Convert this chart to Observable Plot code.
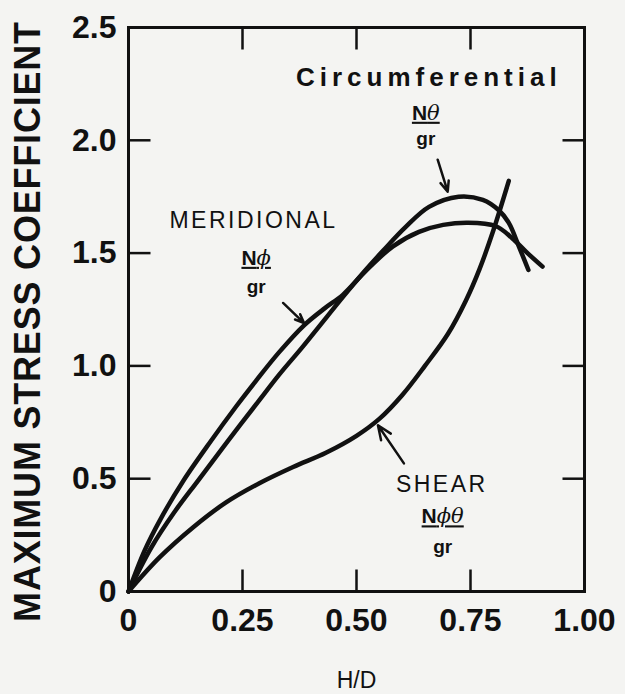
<!DOCTYPE html>
<html>
<head>
<meta charset="utf-8">
<script src="https://cdn.jsdelivr.net/npm/d3@7"></script>
<script src="https://cdn.jsdelivr.net/npm/@observablehq/plot@0.6"></script>
<style>
  html, body { margin: 0; padding: 0; background: #f4f4f2; }
</style>
</head>
<body>
<div id="chart"></div>
<script>
// ---- axis ticks and labels ----
const xTicks = [0, 0.25, 0.5, 0.75, 1];
const xTickLabels = ["0", "0.25", "0.50", "0.75", "1.00"];
const yTicks = [0, 0.5, 1, 1.5, 2, 2.5];
const yTickLabels = ["0", "0.5", "1.0", "1.5", "2.0", "2.5"];
const xInnerTicks = [0.25, 0.5, 0.75];
const yInnerTicks = [0.5, 1, 1.5, 2];
const xTitle = "H/D";
const yTitle = "MAXIMUM STRESS COEFFICIENT";

// ---- series ----
const circHD   = [0, 0.05, 0.1, 0.153, 0.214, 0.287, 0.33, 0.38, 0.42, 0.47, 0.52, 0.558, 0.608, 0.659, 0.724, 0.777, 0.812, 0.834, 0.856, 0.877];
const circCoef = [0, 0.195, 0.35, 0.493, 0.657, 0.848, 0.96, 1.08, 1.18, 1.305, 1.425, 1.51, 1.616, 1.705, 1.75, 1.736, 1.69, 1.634, 1.53, 1.425];

const meriHD   = [0, 0.035, 0.07, 0.12, 0.18, 0.236, 0.28, 0.33, 0.385, 0.43, 0.47, 0.52, 0.58, 0.637, 0.69, 0.745, 0.805, 0.842, 0.875, 0.908];
const meriCoef = [0, 0.18, 0.32, 0.49, 0.665, 0.82, 0.935, 1.06, 1.18, 1.255, 1.315, 1.42, 1.53, 1.594, 1.625, 1.635, 1.62, 1.565, 1.5, 1.44];

const shearHD   = [0, 0.068, 0.142, 0.214, 0.287, 0.361, 0.433, 0.5, 0.55, 0.6, 0.65, 0.7, 0.74, 0.77, 0.8, 0.834];
const shearCoef = [0, 0.151, 0.285, 0.395, 0.48, 0.552, 0.615, 0.69, 0.765, 0.87, 1.0, 1.14, 1.29, 1.43, 1.6, 1.82];

// ---- annotations ----
const headText = ["Circumferential"];
const headX = [0.652];
const headY = [2.242];

const nameText = ["MERIDIONAL", "SHEAR"];
const nameX = [0.274, 0.687];
const nameY = [1.612, 0.44];

const numerText = ["Nθ", "Nϕ", "Nϕθ"];
const numerX = [0.652, 0.28, 0.689];
const numerY = [2.091, 1.448, 0.302];

const denomText = ["gr", "gr", "gr"];
const denomX = [0.652, 0.28, 0.689];
const denomY = [1.98, 1.323, 0.169];

const arrowX1 = [0.678, 0.339, 0.604];
const arrowY1 = [1.914, 1.279, 0.568];
const arrowX2 = [0.700, 0.385, 0.547];
const arrowY2 = [1.772, 1.19, 0.737];

// ---- build tables ----
const zip = (xs, ys, name) => xs.map((x, i) => ({x, y: ys[i], series: name}));
const lines = [
  ...zip(circHD, circCoef, "circumferential"),
  ...zip(meriHD, meriCoef, "meridional"),
  ...zip(shearHD, shearCoef, "shear")
];
const tbl = (t, xs, ys) => t.map((s, i) => ({text: s, x: xs[i], y: ys[i]}));
const arrows = arrowX1.map((x1, i) => ({x1, y1: arrowY1[i], x2: arrowX2[i], y2: arrowY2[i]}));
const xLab = new Map(xTicks.map((t, i) => [t, xTickLabels[i]]));
const yLab = new Map(yTicks.map((t, i) => [t, yTickLabels[i]]));

const sans = "'Liberation Sans', Arial, Helvetica, sans-serif";
const tickShape = {draw(context, l) { context.moveTo(0, 0); context.lineTo(0, -l); }};
const innerTick = {shape: tickShape, length: 22, anchor: "start", strokeWidth: 2.5, stroke: "#111", strokeLinecap: "butt"};

const xMin = xTicks[0], xMax = xTicks[xTicks.length - 1];
const yMin = yTicks[0], yMax = yTicks[yTicks.length - 1];

const chart = Plot.plot({
  width: 625,
  height: 694,
  marginLeft: 128,
  marginRight: 41,
  marginTop: 27,
  marginBottom: 103,
  x: {domain: [xMin, xMax], label: null},
  y: {domain: [yMin, yMax], label: null},
  style: {background: "#f4f4f2", fontFamily: sans, color: "#111"},
  marks: [
    Plot.frame({strokeWidth: 3}),
    // tick labels
    Plot.axisX(xTicks, {tickSize: 0, tickPadding: 17, tickFormat: d => xLab.get(d), fontSize: 32, fontWeight: "bold", label: null}),
    Plot.axisY(yTicks, {tickSize: 0, tickPadding: 12, tickFormat: d => yLab.get(d), fontSize: 32, fontWeight: "bold", label: null}),
    // inward ticks on all four sides
    Plot.vector(xInnerTicks, {...innerTick, x: d => d, y: () => yMin, rotate: 0}),
    Plot.vector(xInnerTicks, {...innerTick, x: d => d, y: () => yMax, rotate: 180}),
    Plot.vector(yInnerTicks, {...innerTick, x: () => xMin, y: d => d, rotate: 90}),
    Plot.vector(yInnerTicks, {...innerTick, x: () => xMax, y: d => d, rotate: -90}),
    // axis titles
    Plot.text([xTitle], {text: d => d, frameAnchor: "bottom", dy: 96, lineAnchor: "bottom", fontSize: 23}),
    Plot.text([yTitle], {text: d => d, frameAnchor: "left", textAnchor: "middle", dx: -100, dy: 12, rotate: -90, lineAnchor: "middle", fontSize: 36, fontWeight: "bold"}),
    // curves
    Plot.line(lines, {x: "x", y: "y", z: "series", curve: "catmull-rom", stroke: "#111", strokeWidth: 4.5}),
    // arrows
    Plot.arrow(arrows, {x1: "x1", y1: "y1", x2: "x2", y2: "y2", stroke: "#111", strokeWidth: 2.5, headLength: 11, headAngle: 45}),
    // annotations
    Plot.text(tbl(headText, headX, headY), {x: "x", y: "y", text: "text", lineAnchor: "bottom", fontSize: 26, fontWeight: "bold", dx: 3}),
    Plot.text(tbl(nameText, nameX, nameY), {x: "x", y: "y", text: "text", lineAnchor: "bottom", fontSize: 23}),
    Plot.text(tbl(numerText, numerX, numerY), {x: "x", y: "y", text: "text", lineAnchor: "bottom", fontSize: 21, fontWeight: "bold"}),
    Plot.text(tbl(denomText, denomX, denomY), {x: "x", y: "y", text: "text", lineAnchor: "bottom", fontSize: 19, fontWeight: "bold"})
  ]
});

document.getElementById("chart").appendChild(chart);

// styling details: letter spacing, fraction bars, italic Greek letters
const texts = d3.select(chart).selectAll("text");
texts.filter(function() { return headText.includes(this.textContent); }).style("letter-spacing", "5px");
texts.filter(function() { return nameText.includes(this.textContent); }).style("letter-spacing", "2.5px");
texts.filter(function() { return this.textContent === yTitle; }).style("letter-spacing", "0.8px");
texts.filter(function() { return numerText.includes(this.textContent); }).each(function() {
  const t = d3.select(this);
  const s = t.text();
  t.text("");
  t.style("text-decoration", "underline").style("text-decoration-thickness", "2px").style("text-underline-offset", "4px");
  t.append("tspan").text(s[0]).attr("font-weight", "bold");
  t.append("tspan").text(s.slice(1))
    .attr("font-weight", "normal")
    .attr("font-style", "italic")
    .attr("font-family", "'DejaVu Serif', 'Liberation Serif', serif");
});
</script>
</body>
</html>
